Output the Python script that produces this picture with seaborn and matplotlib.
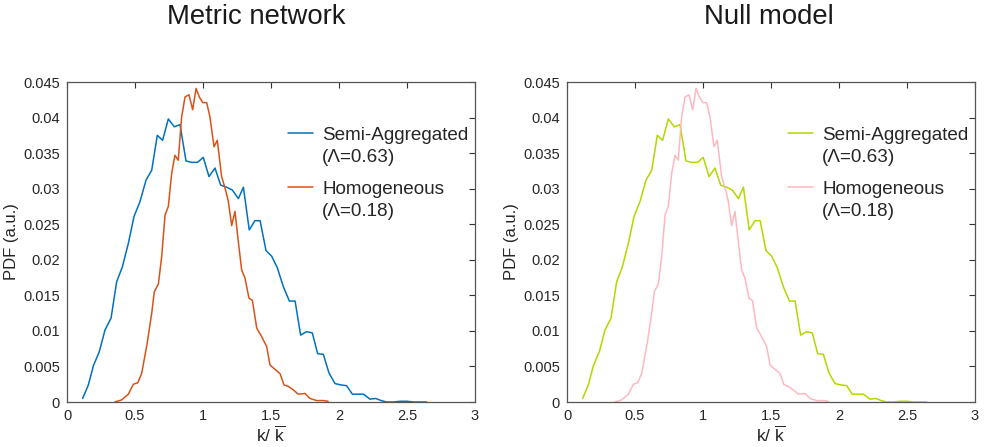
import numpy as np
import pandas as pd
import matplotlib
matplotlib.use("Agg")
import matplotlib.pyplot as plt
import seaborn as sns

# degree distributions
semi_x = [0.115, 0.157, 0.194, 0.238, 0.279, 0.324, 0.365, 0.407, 0.451, 0.493,
          0.537, 0.581, 0.623, 0.664, 0.703, 0.745, 0.789, 0.831, 0.875, 0.917,
          0.960, 1.002, 1.044, 1.088, 1.130, 1.174, 1.216, 1.260, 1.297, 1.340,
          1.382, 1.420, 1.463, 1.505, 1.546, 1.591, 1.635, 1.677, 1.718, 1.762,
          1.804, 1.843, 1.885, 1.926, 1.970, 2.013, 2.056, 2.098, 2.140, 2.180,
          2.228, 2.270, 2.310, 2.350, 2.400, 2.450, 2.500, 2.550, 2.600, 2.645]
semi_y = [0.0005, 0.0024, 0.0051, 0.0071, 0.0101, 0.0118, 0.0169, 0.0190, 0.0223, 0.0261,
          0.0282, 0.0312, 0.0326, 0.0375, 0.0368, 0.0398, 0.0387, 0.0390, 0.0339, 0.0337,
          0.0337, 0.0344, 0.0317, 0.0329, 0.0305, 0.0302, 0.0298, 0.0286, 0.0302, 0.0242,
          0.0255, 0.0255, 0.0213, 0.0205, 0.0189, 0.0162, 0.0142, 0.0142, 0.0094, 0.0099,
          0.0097, 0.0068, 0.0067, 0.0041, 0.0026, 0.0024, 0.0023, 0.0011, 0.0011, 0.0011,
          0.0004, 0.0005, 0.0002, 0.0, 0.0, 0.0001, 0.0001, 0.0, 0.0, 0.0]

homo_x = [0.353, 0.402, 0.451, 0.488, 0.520, 0.549, 0.590, 0.623, 0.642, 0.672,
          0.696, 0.721, 0.745, 0.770, 0.794, 0.818, 0.843, 0.868, 0.897, 0.924,
          0.949, 0.973, 0.998, 1.027, 1.051, 1.081, 1.105, 1.137, 1.169, 1.186,
          1.211, 1.235, 1.260, 1.284, 1.309, 1.338, 1.363, 1.395, 1.431, 1.468,
          1.493, 1.529, 1.566, 1.596, 1.627, 1.664, 1.701, 1.750, 1.787, 1.836,
          1.885, 1.920]
homo_y = [0.0, 0.0003, 0.0011, 0.0025, 0.0027, 0.0040, 0.0083, 0.0125, 0.0155, 0.0166,
          0.0204, 0.0263, 0.0275, 0.0322, 0.0347, 0.0340, 0.0401, 0.0429, 0.0432, 0.0411,
          0.0441, 0.0429, 0.0421, 0.0421, 0.0401, 0.0359, 0.0368, 0.0317, 0.0296, 0.0282,
          0.0248, 0.0268, 0.0225, 0.0186, 0.0174, 0.0146, 0.0143, 0.0104, 0.0092, 0.0078,
          0.0052, 0.0046, 0.0040, 0.0024, 0.0022, 0.0017, 0.0011, 0.0012, 0.0005, 0.0002,
          0.0002, 0.0001]

titles = ["Metric network", "Null model"]
semi_label = ["Semi-Aggregated", "(\u039b=0.63)"]
homo_label = ["Homogeneous", "(\u039b=0.18)"]
colors = [("#0072BD", "#D95319"), ("#B2D800", "#FFB8C0")]
x_ticks = [0, 0.5, 1, 1.5, 2, 2.5, 3]
y_ticks = [0, 0.005, 0.01, 0.015, 0.02, 0.025, 0.03, 0.035, 0.04, 0.045]

sns.set_style("white")
plt.rcParams["font.family"] = ["Liberation Sans", "DejaVu Sans"]
plt.rcParams["mathtext.fontset"] = "custom"
plt.rcParams["mathtext.rm"] = "Liberation Sans"
plt.rcParams["mathtext.it"] = "Liberation Sans"

semi_df = pd.DataFrame({"x": semi_x, "y": semi_y})
homo_df = pd.DataFrame({"x": homo_x, "y": homo_y})

fig = plt.figure(figsize=(9.84, 4.47), dpi=100)
lefts = [67 / 984, 567 / 984]
title_x = [256 / 984, 769 / 984]

for i in range(2):
    ax = fig.add_axes([lefts[i], 45 / 447, 408 / 984, 320 / 447])
    c1, c2 = colors[i]
    sns.lineplot(data=semi_df, x="x", y="y", color=c1, lw=1.1, ax=ax)
    sns.lineplot(data=homo_df, x="x", y="y", color=c2, lw=1.1, ax=ax)
    ax.set_xlim(0, 3)
    ax.set_ylim(0, 0.045)
    ax.set_xticks(x_ticks)
    ax.set_xticklabels(["0", "0.5", "1", "1.5", "2", "2.5", "3"])
    ax.set_yticks(y_ticks)
    ax.set_yticklabels(["0", "0.005", "0.01", "0.015", "0.02", "0.025", "0.03",
                        "0.035", "0.04", "0.045"])
    ax.tick_params(direction="in", length=4, width=0.8, color="#333333",
                   labelsize=10.5, labelcolor="#262626", top=True, right=True, pad=5)
    for s in ax.spines.values():
        s.set_color("#555555")
        s.set_linewidth(0.9)
    ax.set_xlabel(r"k/ $\overline{\mathrm{k}}$", fontsize=12.5, color="#262626", labelpad=1)
    ax.set_ylabel("PDF (a.u.)", fontsize=12, color="#262626", labelpad=3)

    l1, l2 = ax.lines[0], ax.lines[1]
    blank = plt.Line2D([], [], color="none")
    leg1 = ax.legend([l1, blank], semi_label, loc="center left",
                     bbox_to_anchor=(0.542, 0.80), frameon=False, fontsize=13.6,
                     handlelength=1.32, handletextpad=0.48, labelspacing=0.25,
                     borderaxespad=0, borderpad=0)
    ax.add_artist(leg1)
    ax.legend([l2, blank], homo_label, loc="center left",
              bbox_to_anchor=(0.542, 0.63), frameon=False, fontsize=13.6,
              handlelength=1.32, handletextpad=0.48, labelspacing=0.25,
              borderaxespad=0, borderpad=0)

    fig.text(title_x[i], 1 - 17 / 447, titles[i], ha="center", va="center",
             fontsize=19.8, color="#1a1a1a")

fig.savefig("out.png", dpi=100)
